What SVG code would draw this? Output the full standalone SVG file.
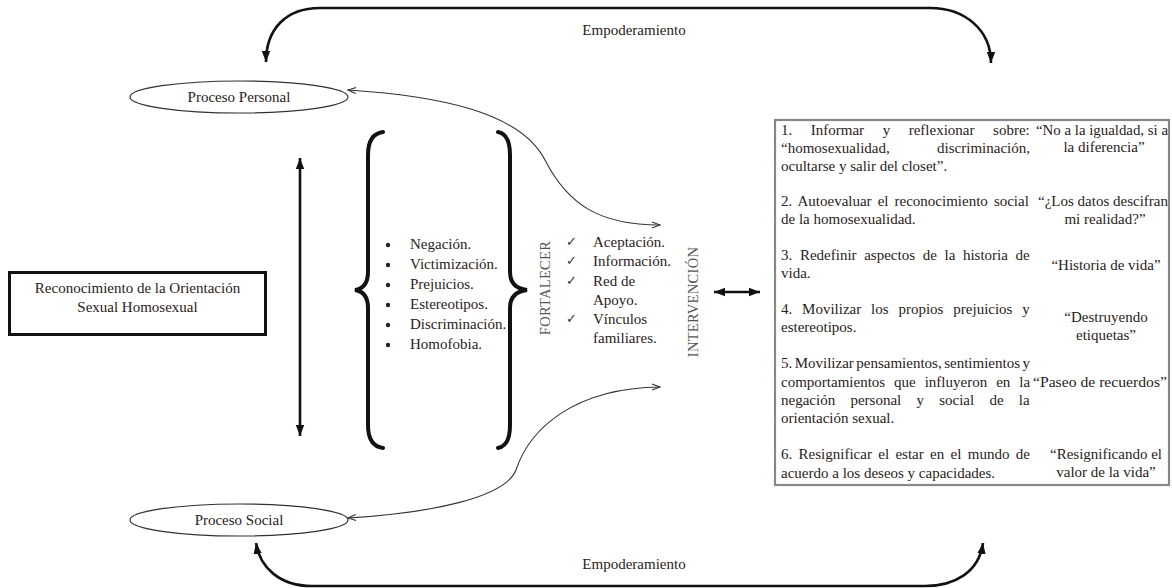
<svg xmlns="http://www.w3.org/2000/svg" width="1172" height="588" viewBox="0 0 1172 588">
<style>
text{font-family:"Liberation Serif","Times New Roman",serif;fill:#2a2222;font-size:15px}
.c{text-anchor:middle}
.thick{fill:none;stroke:#111;stroke-width:2.6}
.brace{fill:none;stroke:#111;stroke-width:4;stroke-linecap:round}
.thin{fill:none;stroke:#333;stroke-width:1.1}
.ell{fill:#fff;stroke:#333;stroke-width:1.2}
.vert{fill:#555;font-size:14.5px;letter-spacing:0.3px}
.chk{font-family:"DejaVu Sans",sans-serif;font-size:13px;fill:#333}
.bul{fill:#222}
</style>
<defs>
<marker id="ah" markerUnits="userSpaceOnUse" markerWidth="12" markerHeight="12" viewBox="0 0 12 12" refX="11" refY="6" orient="auto-start-reverse">
<path d="M0,1.8 L11,6 L0,10.2 Z" fill="#111"/>
</marker>
<marker id="oh" markerUnits="userSpaceOnUse" markerWidth="10" markerHeight="10" viewBox="0 0 10 10" refX="9" refY="5" orient="auto-start-reverse">
<path d="M1,2 L9,5 L1,8" fill="none" stroke="#333" stroke-width="1.1"/>
</marker>
</defs>

<g id="connectors">
<path class="thick" d="M266,62 C266,30 285,8 320,8 L930,8 C965,8 991,30 991,63" marker-start="url(#ah)" marker-end="url(#ah)"/>
<path class="thick" d="M256,543 C260,568 280,586 312,586 L925,586 C955,586 979,572 983,543" marker-start="url(#ah)" marker-end="url(#ah)"/>
<path class="thick" d="M300,158 L300,436" marker-start="url(#ah)" marker-end="url(#ah)"/>
<path class="thick" d="M714,292 L760,292" marker-start="url(#ah)" marker-end="url(#ah)"/>
<path class="thin" d="M348,90 C440,96 520,112 545,160 C568,205 600,225 660,225" marker-start="url(#oh)" marker-end="url(#oh)"/>
<path class="thin" d="M348,518 C430,513 505,498 516,470 C530,428 575,388 660,387" marker-start="url(#oh)" marker-end="url(#oh)"/>
</g>

<text class="c" x="634" y="35">Empoderamiento</text>
<text class="c" x="634" y="569">Empoderamiento</text>

<g id="proceso-personal">
<ellipse class="ell" cx="239" cy="97" rx="109" ry="16"/>
<text class="c" x="239" y="102">Proceso Personal</text>
</g>

<g id="proceso-social">
<ellipse class="ell" cx="239" cy="520" rx="109" ry="16"/>
<text class="c" x="239" y="525">Proceso Social</text>
</g>

<g id="reconocimiento">
<rect x="9.5" y="272.5" width="256" height="62" fill="#fff" stroke="#111" stroke-width="3"/>
<text class="c" x="137.5" y="293">Reconocimiento de la Orientación</text>
<text class="c" x="137.5" y="312">Sexual Homosexual</text>
</g>

<g id="obstaculos">
<path class="brace" d="M383,132 Q368,134 368,155 L368,272 Q368,288 355,290 Q368,292 368,308 L368,425 Q368,446 383,448"/>
<path class="brace" d="M498,132 Q510,134 510,155 L510,272 Q510,288 527,290 Q510,292 510,308 L510,425 Q510,446 498,448"/>
<circle class="bul" cx="388" cy="245" r="2.2"/>
<text x="410" y="249">Negación.</text>
<circle class="bul" cx="388" cy="265" r="2.2"/>
<text x="410" y="269">Victimización.</text>
<circle class="bul" cx="388" cy="285" r="2.2"/>
<text x="410" y="289">Prejuicios.</text>
<circle class="bul" cx="388" cy="305" r="2.2"/>
<text x="410" y="309">Estereotipos.</text>
<circle class="bul" cx="388" cy="325" r="2.2"/>
<text x="410" y="329">Discriminación.</text>
<circle class="bul" cx="388" cy="345" r="2.2"/>
<text x="410" y="349">Homofobia.</text>
</g>

<g id="fortalecer">
<text class="c vert" transform="translate(550,288) rotate(-90)">FORTALECER</text>
</g>

<g id="recursos">
<text class="chk" x="566" y="246">✓</text>
<text x="593" y="247">Aceptación.</text>
<text class="chk" x="566" y="265">✓</text>
<text x="593" y="266">Información.</text>
<text class="chk" x="566" y="285">✓</text>
<text x="593" y="286">Red de</text>
<text x="593" y="305">Apoyo.</text>
<text class="chk" x="566" y="323">✓</text>
<text x="593" y="324">Vínculos</text>
<text x="593" y="343">familiares.</text>
</g>

<g id="intervencion">
<text class="c vert" transform="translate(698,302) rotate(-90)">INTERVENCIÓN</text>
</g>

<g id="tabla">
<rect x="775" y="120" width="394" height="365" fill="#fff" stroke="#888" stroke-width="2.2"/>
<text x="781" y="135" style="word-spacing:14.8px">1. Informar y reflexionar sobre:</text>
<text x="781" y="153">“homosexualidad,</text>
<text x="1030" y="153" text-anchor="end">discriminación,</text>
<text x="781" y="171">ocultarse y salir del closet”.</text>
<text x="781" y="206" style="word-spacing:2.3px">2. Autoevaluar el reconocimiento social</text>
<text x="781" y="224">de la homosexualidad.</text>
<text x="781" y="260" style="word-spacing:3.9px">3. Redefinir aspectos de la historia de</text>
<text x="781" y="278">vida.</text>
<text x="781" y="314" style="word-spacing:6.1px">4. Movilizar los propios prejuicios y</text>
<text x="781" y="332">estereotipos.</text>
<text x="781" y="368" style="word-spacing:-1.3px">5. Movilizar pensamientos, sentimientos y</text>
<text x="781" y="387" style="word-spacing:5.2px">comportamientos que influyeron en la</text>
<text x="781" y="405" style="word-spacing:11.5px">negación personal y social de la</text>
<text x="781" y="423">orientación sexual.</text>
<text x="781" y="459" style="word-spacing:2.6px">6. Resignificar el estar en el mundo de</text>
<text x="781" y="478">acuerdo a los deseos y capacidades.</text>

<text class="c" x="1102" y="135" textLength="132" lengthAdjust="spacingAndGlyphs">“No a la igualdad, si a</text>
<text class="c" x="1104" y="152">la diferencia”</text>
<text class="c" x="1103" y="206" textLength="130" lengthAdjust="spacingAndGlyphs">“¿Los datos descifran</text>
<text class="c" x="1105" y="224">mi realidad?”</text>
<text class="c" x="1106" y="270">“Historia de vida”</text>
<text class="c" x="1106" y="322">“Destruyendo</text>
<text class="c" x="1106" y="340">etiquetas”</text>
<text class="c" x="1100" y="387" textLength="134" lengthAdjust="spacingAndGlyphs">“Paseo de recuerdos”</text>
<text class="c" x="1106" y="459">“Resignificando el</text>
<text class="c" x="1106" y="477">valor de la vida”</text>
</g>
</svg>
